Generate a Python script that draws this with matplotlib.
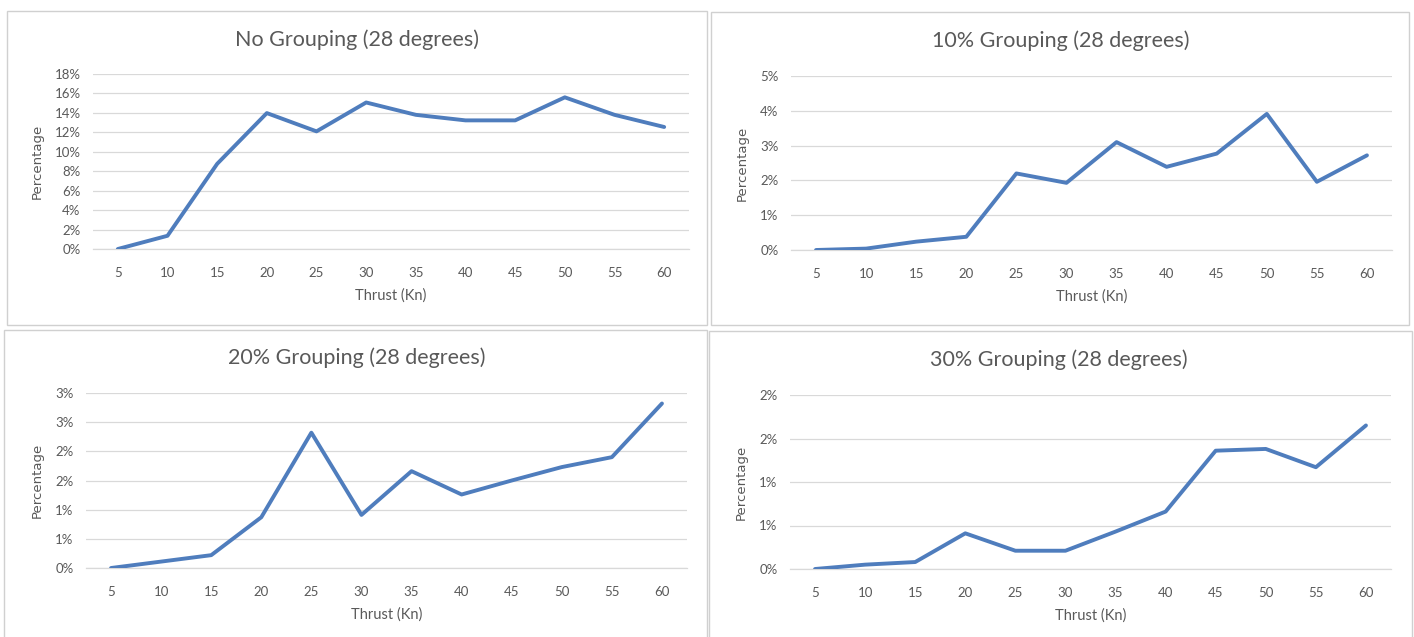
import math
import matplotlib
matplotlib.use("Agg")
import matplotlib.pyplot as plt
from matplotlib.patches import Rectangle
from matplotlib.ticker import FuncFormatter, MultipleLocator

# thrust categories and percentage of groups (28 degree runs)
thrust = ["5", "10", "15", "20", "25", "30", "35", "40", "45", "50", "55", "60"]
no_grouping = [0.0, 1.36, 8.76, 13.98, 12.1, 15.07, 13.8, 13.23, 13.23, 15.6, 13.8, 12.55]
grouping_10 = [0.0, 0.04, 0.24, 0.38, 2.2, 1.93, 3.1, 2.39, 2.77, 3.91, 1.96, 2.72]
grouping_20 = [0.0, 0.11, 0.22, 0.87, 2.32, 0.91, 1.66, 1.26, 1.50, 1.73, 1.90, 2.82]
grouping_30 = [0.0, 0.05, 0.08, 0.41, 0.21, 0.21, 0.43, 0.66, 1.36, 1.38, 1.17, 1.65]

titles = ["No Grouping (28 degrees)", "10% Grouping (28 degrees)",
          "20% Grouping (28 degrees)", "30% Grouping (28 degrees)"]
series = [no_grouping, grouping_10, grouping_20, grouping_30]
y_max = [18, 5, 3, 2]
y_step = [2, 1, 0.5, 0.5]

W, H = 1414, 637
TEXT = "#595959"
GRID = "#d9d9d9"
LINE = "#4f7dbd"
FONT = "Lato"

fig = plt.figure(figsize=(W / 100, H / 100), dpi=100)


def fx(px):
    return px / W


def fy(py):
    return 1 - py / H


# frames around each chart (left, top, right, bottom in pixels)
frames = [(7, 11, 707, 325), (711, 12, 1409, 325),
          (4, 330, 707, 645), (709, 331, 1412, 645)]
for l, t, r, b in frames:
    fig.patches.append(Rectangle((fx(l), fy(b)), fx(r - l), (b - t) / H,
                                 transform=fig.transFigure, fill=False,
                                 edgecolor="#d0d0d0", linewidth=1.0))

# plot areas (left, top, right, bottom in pixels)
areas = [(93, 74, 689, 249), (791, 76, 1392, 250),
         (86, 393, 687, 568), (790, 395, 1391, 569)]
title_pos = [(357, 40), (1061, 41), (357, 358), (1059, 360)]


def pct(v, pos):
    return "%d%%" % math.floor(v + 0.5)


for i in range(4):
    l, t, r, b = areas[i]
    ax = fig.add_axes([fx(l), fy(b), fx(r - l), (b - t) / H])
    x = range(len(thrust))
    ax.plot(x, series[i], color=LINE, linewidth=2.8, solid_joinstyle="round",
            solid_capstyle="round", zorder=3)
    ax.set_xlim(-0.5, len(thrust) - 0.5)
    ax.set_ylim(0, y_max[i])
    ax.set_xticks(list(x))
    ax.set_xticklabels(thrust)
    ax.yaxis.set_major_locator(MultipleLocator(y_step[i]))
    ax.yaxis.set_major_formatter(FuncFormatter(pct))
    ax.grid(axis="y", color=GRID, linewidth=0.9, zorder=0)
    ax.set_axisbelow(True)
    for s in ["top", "right", "left"]:
        ax.spines[s].set_visible(False)
    ax.spines["bottom"].set_color(GRID)
    ax.spines["bottom"].set_linewidth(0.9)
    ax.tick_params(axis="both", length=0, colors=TEXT, labelsize=9.5)
    ax.tick_params(axis="x", pad=13)
    ax.tick_params(axis="y", pad=9)
    for lab in ax.get_xticklabels() + ax.get_yticklabels():
        lab.set_family(FONT)
    ax.set_xlabel("Thrust (Kn)", fontsize=10.5, color=TEXT, family=FONT, labelpad=7)
    ax.set_ylabel("Percentage", fontsize=9.5, color=TEXT, family="DejaVu Sans",
                  labelpad=8)
    ax.set_facecolor("none")
    tx, ty = title_pos[i]
    fig.text(fx(tx), fy(ty), titles[i], ha="center", va="center",
             fontsize=15.5, color=TEXT, family=FONT)

fig.savefig("out.png", dpi=100, facecolor="white")
